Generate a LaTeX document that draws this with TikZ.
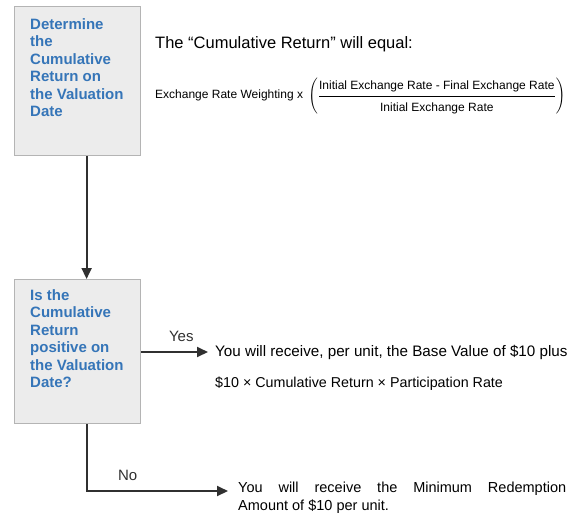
\documentclass[tikz,border=0pt]{standalone}
\usepackage{amsmath}
\usepackage{fontspec}
\setmainfont{Liberation Sans}
\usetikzlibrary{arrows.meta,positioning}
\definecolor{boxgray}{HTML}{ECECEC}
\definecolor{edgegray}{HTML}{B4B4B4}
\definecolor{stepblue}{HTML}{3575B8}
\definecolor{linegray}{HTML}{303030}
\tikzset{
  stepbox/.style={draw=edgegray, line width=1.2pt, fill=boxgray, minimum width=126pt, inner sep=0pt},
  steptext/.style={anchor=north west, align=left, inner sep=0pt, text=stepblue,
    font=\fontsize{15}{17.5}\selectfont\bfseries},
  flow/.style={linegray, line width=1.9pt, -{Triangle[length=11pt,width=10pt]}},
  note/.style={anchor=base west, inner sep=0pt, font=\fontsize{15}{18}\selectfont},
}
\begin{document}
\begin{tikzpicture}[x=1pt, y=-1pt]
\useasboundingbox (0,0) rectangle (572,520);

% left column
\node[stepbox, minimum height=149pt, anchor=north west] (det) at (14,6) {};
\node[steptext] (dettext) at (30,18) {Determine\\the\\Cumulative\\Return on\\the Valuation\\Date};
\node[stepbox, minimum height=144pt, anchor=north west] (pos) at (14,279) {};
\node[steptext] (postext) at (30,289) {Is the\\Cumulative\\Return\\positive on\\the Valuation\\Date?};

% formula
\node[note, font=\fontsize{16.5}{18}\selectfont] (equal) at (155,48) {The “Cumulative Return” will equal:};
\node[anchor=west, inner sep=0pt, font=\fontsize{12}{13}\selectfont] (formula) at (155,96)
  {Exchange Rate Weighting x\, $\left(\dfrac{\rule[-5pt]{0pt}{14pt}\text{Initial Exchange Rate - Final Exchange Rate}}{\rule{0pt}{14pt}\text{Initial Exchange Rate}}\right)$};

% outcomes
\node[note, font=\fontsize{15.2}{18}\selectfont] (yesout) at (215,356) {You will receive, per unit, the Base Value of \$10 plus};
\node[note, font=\fontsize{14.3}{18}\selectfont] (yescalc) at (215,387) {\$10 × Cumulative Return × Participation Rate};
\node[anchor=north west, inner sep=0pt, text width=328pt, align=justify,
  font=\fontsize{14.5}{18}\selectfont] (noout) at (238,482)
  {You will receive the Minimum Redemption\linebreak Amount of \$10 per unit.};
\coordinate (yestip) at (208,352);
\coordinate (notip) at (228,491);

\draw[flow] ([xshift=9pt]det.south) -- ([xshift=9pt]pos.north);
\draw[flow] (pos.east |- yestip) -- (yestip) node[pos=0.6, above=6pt, font=\fontsize{15}{18}\selectfont] (yes) {Yes};
\draw[flow] ([xshift=9pt]pos.south) |- (notip) node[pos=0.645, above=6pt, font=\fontsize{15}{18}\selectfont] (no) {No};
\end{tikzpicture}
\end{document}
